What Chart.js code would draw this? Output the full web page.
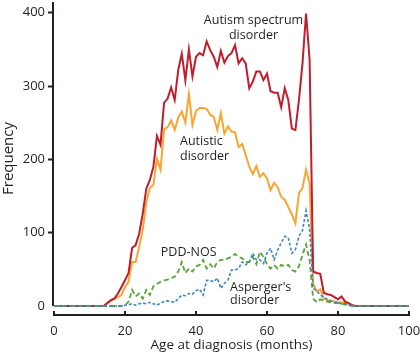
<!DOCTYPE html>
<html>
<head>
<meta charset="utf-8">
<script src="https://cdn.jsdelivr.net/npm/chart.js@4"></script>
<style>
  html, body { margin: 0; padding: 0; background: #fff; }
  #wrap { width: 420px; height: 359px; }
</style>
</head>
<body>
<div id="wrap"><canvas id="chart" width="420" height="359"></canvas></div>
<script>
// Age at diagnosis in months, 0..100
const months = [
  0, 1, 2, 3, 4, 5, 6, 7, 8, 9, 10, 11, 12, 13, 14, 15, 16, 17, 18, 19,
  20, 21, 22, 23, 24, 25, 26, 27, 28, 29, 30, 31, 32, 33, 34, 35, 36, 37, 38, 39,
  40, 41, 42, 43, 44, 45, 46, 47, 48, 49, 50, 51, 52, 53, 54, 55, 56, 57, 58, 59,
  60, 61, 62, 63, 64, 65, 66, 67, 68, 69, 70, 71, 72, 73, 74, 75, 76, 77, 78, 79,
  80, 81, 82, 83, 84, 85, 86, 87, 88, 89, 90, 91, 92, 93, 94, 95, 96, 97, 98, 99, 100
];

const autismSpectrum = [
  0, 0, 0, 0, 0, 0, 0, 0, 0, 0, 0, 0, 0, 0, 0, 4, 8, 10, 17, 26,
  35, 45, 79, 83, 99, 126, 160, 172, 190, 232, 220, 277, 283, 298, 281, 322, 344, 308, 350, 313,
  340, 345, 342, 361, 349, 340, 326, 348, 332, 341, 345, 356, 331, 338, 331, 297, 306, 320, 320, 308,
  317, 293, 291, 291, 271, 297, 281, 242, 240, 281, 331, 399, 336, 47, 45, 44, 18, 16, 15, 12,
  9, 13, 6, 4, 1, 0, 0, 0, 0, 0, 0, 0, 0, 0, 0, 0, 0, 0, 0, 0, 0
];

const autistic = [
  0, 0, 0, 0, 0, 0, 0, 0, 0, 0, 0, 0, 0, 0, 0, 3, 7, 10, 12, 15,
  26, 33, 60, 60, 81, 104, 142, 161, 165, 201, 186, 241, 244, 253, 240, 257, 265, 250, 289, 247,
  266, 270, 270, 269, 261, 258, 240, 263, 235, 245, 238, 237, 217, 221, 206, 190, 180, 191, 176, 181,
  174, 158, 168, 162, 149, 145, 135, 125, 113, 154, 161, 186, 167, 30, 20, 23, 10, 8, 7, 6,
  5, 5, 4, 3, 1, 0, 0, 0, 0, 0, 0, 0, 0, 0, 0, 0, 0, 0, 0, 0, 0
];

const pddNos = [
  0, 0, 0, 0, 0, 0, 0, 0, 0, 0, 0, 0, 0, 0, 0, 0, 0, 0, 0, 0,
  1, 6, 22, 13, 17, 10, 22, 15, 27, 30, 33, 35, 36, 38, 40, 47, 60, 45, 51, 47,
  54, 56, 63, 51, 57, 51, 60, 63, 63, 65, 67, 71, 67, 65, 60, 60, 67, 57, 74, 67,
  57, 51, 56, 51, 56, 54, 56, 49, 47, 54, 70, 84, 62, 10, 5, 9, 7, 6, 5, 4,
  4, 3, 2, 1, 0, 0, 0, 0, 0, 0, 0, 0, 0, 0, 0, 0, 0, 0, 0, 0, 0
];

const asperger = [
  0, 0, 0, 0, 0, 0, 0, 0, 0, 0, 0, 0, 0, 0, 0, 0, 0, 0, 0, 0,
  1, 2, 3, 1, 3, 4, 3, 5, 3, 1, 4, 6, 7, 6, 5, 10, 15, 14, 17, 16,
  21, 23, 15, 35, 35, 33, 38, 24, 31, 35, 49, 49, 51, 60, 56, 60, 72, 63, 63, 58,
  72, 79, 63, 76, 86, 95, 93, 72, 77, 95, 103, 130, 105, 24, 21, 15, 12, 9, 7, 5,
  4, 3, 3, 1, 0, 0, 0, 0, 0, 0, 0, 0, 0, 0, 0, 0, 0, 0, 0, 0, 0
];

const xTicks = [0, 20, 40, 60, 80, 100];
const yTicks = [0, 100, 200, 300, 400];

const FONT = "'Open Sans', 'DejaVu Sans', sans-serif";
const INK = "#231f20";

function series(values) {
  return values.map((v, i) => ({ x: months[i], y: v }));
}

// In-chart labels next to each line (data coordinates)
const curveLabels = [
  { lines: ["Autism spectrum", "disorder"], x: 56.2, y: 389, step: 15, align: "center" },
  { lines: ["Autistic", "disorder"], x: 35.5, y: 225, step: 15, align: "left" },
  { lines: ["PDD-NOS"], x: 30.1, y: 73, step: 0, align: "left" },
  { lines: ["Asperger's", "disorder"], x: 49.6, y: 25, step: 13, align: "left" }
];

const decorations = {
  id: "decorations",
  afterDraw(chart) {
    const { ctx, scales: { x, y } } = chart;
    ctx.save();
    // y axis line stops at zero
    ctx.strokeStyle = INK;
    ctx.lineWidth = 2;
    ctx.beginPath();
    ctx.moveTo(x.left - 1, y.top);
    ctx.lineTo(x.left - 1, y.getPixelForValue(0));
    ctx.stroke();
    // short inward ticks on the x axis
    xTicks.forEach(v => {
      const px = x.getPixelForValue(v);
      ctx.beginPath();
      ctx.moveTo(px, y.bottom);
      ctx.lineTo(px, y.bottom - 4);
      ctx.stroke();
    });
    // curve labels
    ctx.fillStyle = INK;
    ctx.font = "12.5px " + FONT;
    ctx.textBaseline = "middle";
    curveLabels.forEach(l => {
      ctx.textAlign = l.align;
      const px = x.getPixelForValue(l.x);
      const py = y.getPixelForValue(l.y);
      l.lines.forEach((t, i) => ctx.fillText(t, px, py + i * l.step));
    });
    ctx.restore();
  }
};

new Chart(document.getElementById("chart"), {
  type: "line",
  data: {
    datasets: [
      { label: "Autism spectrum disorder", data: series(autismSpectrum), borderColor: "#be1e2d", borderWidth: 2, order: 2 },
      { label: "Autistic disorder", data: series(autistic), borderColor: "#f9a533", borderWidth: 2, order: 3 },
      { label: "PDD-NOS", data: series(pddNos), borderColor: "#5ba33b", borderWidth: 1.8, borderDash: [5, 3], order: 1 },
      { label: "Asperger's disorder", data: series(asperger), borderColor: "#3c87c4", borderWidth: 1.6, borderDash: [3, 2], order: 0 }
    ]
  },
  options: {
    responsive: false,
    animation: false,
    events: [],
    layout: { padding: { top: 2, right: 11, left: 0, bottom: 0 } },
    elements: { point: { radius: 0 }, line: { tension: 0, fill: false } },
    plugins: { legend: { display: false }, tooltip: { enabled: false } },
    scales: {
      x: {
        type: "linear",
        min: 0,
        max: 100,
        afterFit: s => { s.height = 44; s.paddingLeft = 0; s.paddingRight = 0; },
        afterBuildTicks: s => { s.ticks = xTicks.map(v => ({ value: v })); },
        grid: { display: false, drawTicks: false },
        border: { display: true, color: INK, width: 2 },
        ticks: { color: INK, font: { family: FONT, size: 13 }, padding: 8, maxRotation: 0 },
        title: {
          display: true,
          text: "Age at diagnosis (months)",
          color: INK,
          font: { family: FONT, size: 13.5 },
          padding: { top: 0, bottom: 6 }
        }
      },
      y: {
        min: -12.3,
        max: 414.7,
        afterFit: s => { s.width = 54; s.paddingTop = 0; s.paddingBottom = 0; },
        afterBuildTicks: s => { s.ticks = yTicks.map(v => ({ value: v })); },
        grid: {
          drawOnChartArea: false,
          tickLength: 6,
          tickWidth: 2,
          tickColor: c => (c.tick && c.tick.value === 0 ? "rgba(0,0,0,0)" : INK)
        },
        border: { display: false },
        ticks: { color: INK, font: { family: FONT, size: 13 }, padding: 3 },
        title: {
          display: true,
          text: "Frequency",
          color: INK,
          font: { family: FONT, size: 15 },
          padding: { top: 0, bottom: 0 }
        }
      }
    }
  },
  plugins: [decorations]
});
</script>
</body>
</html>
